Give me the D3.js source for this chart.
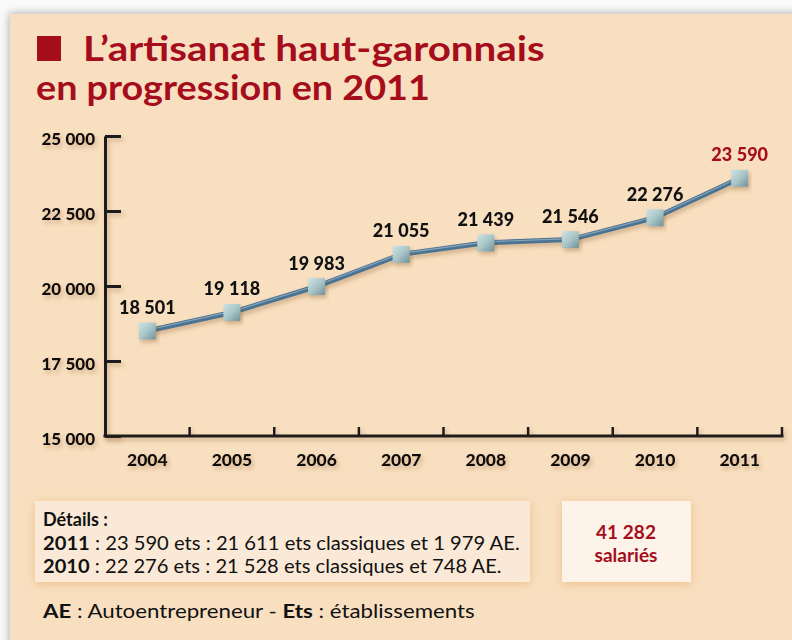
<!DOCTYPE html>
<html>
<head>
<meta charset="utf-8">
<script src="https://cdn.jsdelivr.net/npm/d3@7"></script>
<style>
  body { margin: 0; background: #fff; }
  svg { display: block; }
</style>
</head>
<body>
<div class="chart"></div>
<script>
  // data
  var years = ["2004", "2005", "2006", "2007", "2008", "2009", "2010", "2011"];
  var values = [18501, 19118, 19983, 21055, 21439, 21546, 22276, 23590];
  var yTicks = [15000, 17500, 20000, 22500, 25000];
  var titleLines = ["L\u2019artisanat haut-garonnais", "en progression en 2011"];
  var detailLines = [
    ["2011", " : 23\u2005590 ets : 21\u2005611 ets classiques et 1\u2005979 AE."],
    ["2010", " : 22\u2005276 ets : 21\u2005528 ets classiques et 748 AE."]
  ];
  var salaries = ["41\u2005282", "salari\u00e9s"];

  var W = 792, H = 640;
  var red = "#a50d1c";
  var font = "Lato, 'Open Sans', sans-serif";
  var titleFont = "'Liberation Sans Narrow', Lato, sans-serif";

  var svg = d3.select(".chart").append("svg")
      .attr("width", W)
      .attr("height", H);

  var defs = svg.append("defs");

  var panelShadow = defs.append("filter").attr("id", "panelShadow")
      .attr("x", "-5%").attr("y", "-5%").attr("width", "110%").attr("height", "110%");
  panelShadow.append("feDropShadow")
      .attr("dx", -1).attr("dy", -1).attr("stdDeviation", 4)
      .attr("flood-color", "#777").attr("flood-opacity", 0.55);

  var softShadow = defs.append("filter").attr("id", "softShadow")
      .attr("x", "-20%").attr("y", "-20%").attr("width", "140%").attr("height", "160%");
  softShadow.append("feDropShadow")
      .attr("dx", 2).attr("dy", 3).attr("stdDeviation", 2)
      .attr("flood-color", "#8a5a2a").attr("flood-opacity", 0.35);

  var boxGlow = defs.append("filter").attr("id", "boxGlow")
      .attr("x", "-20%").attr("y", "-30%").attr("width", "140%").attr("height", "160%");
  boxGlow.append("feDropShadow")
      .attr("dx", 0).attr("dy", 2).attr("stdDeviation", 5)
      .attr("flood-color", "#e6a65e").attr("flood-opacity", 0.55);

  var markerGrad = defs.append("linearGradient").attr("id", "markerGrad")
      .attr("x1", 0).attr("y1", 0).attr("x2", 1).attr("y2", 1);
  markerGrad.append("stop").attr("offset", "0%").attr("stop-color", "#cfe3e3");
  markerGrad.append("stop").attr("offset", "50%").attr("stop-color", "#a9c6c9");
  markerGrad.append("stop").attr("offset", "100%").attr("stop-color", "#6f9198");

  // page + panel
  svg.append("rect").attr("width", W).attr("height", H).attr("fill", "#fafafa");
  svg.append("rect")
      .attr("x", 10).attr("y", 14)
      .attr("width", W).attr("height", H)
      .attr("fill", "#f8dfc0")
      .attr("filter", "url(#panelShadow)");

  // squeeze a text to a given width
  function fitWidth(sel, x, width) {
    var w = sel.node().getComputedTextLength();
    var k = width / w;
    sel.attr("transform", "translate(" + x + ",0) scale(" + k + ",1)").attr("x", 0);
  }

  // title
  svg.append("rect")
      .attr("x", 37).attr("y", 36)
      .attr("width", 24).attr("height", 25)
      .attr("fill", red);

  var t1 = svg.append("text")
      .attr("y", 61)
      .attr("font-family", titleFont).attr("font-weight", "bold")
      .attr("font-size", 35).attr("fill", red)
      .text(titleLines[0]);
  fitWidth(t1, 83, 462);

  var t2 = svg.append("text")
      .attr("y", 100)
      .attr("font-family", titleFont).attr("font-weight", "bold")
      .attr("font-size", 35).attr("fill", red)
      .text(titleLines[1]);
  fitWidth(t2, 36, 394);

  // scales
  var xScale = d3.scaleBand()
      .domain(years)
      .range([105, 782]);

  var yScale = d3.scaleLinear()
      .domain([15000, 25000])
      .range([436, 136]);

  var fmt = d3.formatLocale({decimal: ",", thousands: "\u2005", grouping: [3], currency: ["", " €"]}).format(",d");

  // y axis
  var yAxis = d3.axisLeft(yScale)
      .tickValues(yTicks)
      .tickSizeInner(-16)
      .tickSizeOuter(0)
      .tickPadding(10)
      .tickFormat(fmt);

  var gy = svg.append("g")
      .attr("transform", "translate(105,0)")
      .attr("filter", "url(#softShadow)")
      .call(yAxis);
  gy.select(".domain").attr("stroke", "#1a1a1a").attr("stroke-width", 3);
  gy.selectAll(".tick line").attr("stroke", "#1a1a1a").attr("stroke-width", 3);
  gy.selectAll("text")
      .attr("font-family", font).attr("font-weight", 900)
      .attr("font-size", 17).attr("fill", "#111")
      .attr("dy", "0.5em");

  // x axis
  var xAxis = d3.axisBottom(xScale)
      .tickSize(0)
      .tickPadding(15);

  var gx = svg.append("g")
      .attr("transform", "translate(0,436)")
      .attr("filter", "url(#softShadow)")
      .call(xAxis);
  gx.select(".domain").attr("stroke", "#1a1a1a").attr("stroke-width", 3)
      .attr("d", "M103.5,0H783.5");
  gx.selectAll("text")
      .attr("font-family", font).attr("font-weight", 900)
      .attr("font-size", 17.5).attr("fill", "#111")
      .attr("dy", "0.85em");
  gx.selectAll(".tick").append("line")
      .attr("x1", xScale.bandwidth() / 2).attr("x2", xScale.bandwidth() / 2)
      .attr("y1", 0).attr("y2", -9)
      .attr("stroke", "#1a1a1a").attr("stroke-width", 2.5);

  // line
  var pts = years.map(function(d, i) { return {year: d, value: values[i]}; });

  var line = d3.line()
      .x(function(d) { return xScale(d.year) + xScale.bandwidth() / 2; })
      .y(function(d) { return yScale(d.value); });

  svg.append("path")
      .datum(pts)
      .attr("d", line)
      .attr("fill", "none")
      .attr("stroke", "#4b7392")
      .attr("stroke-width", 5)
      .attr("filter", "url(#softShadow)");
  svg.append("path")
      .datum(pts)
      .attr("d", line)
      .attr("transform", "translate(0,-1)")
      .attr("fill", "none")
      .attr("stroke", "#86a6bc")
      .attr("stroke-width", 1.2);

  // markers
  var ms = 17;
  svg.selectAll("rect.marker")
      .data(pts)
      .enter().append("rect")
      .attr("class", "marker")
      .attr("x", function(d) { return xScale(d.year) + xScale.bandwidth() / 2 - ms / 2; })
      .attr("y", function(d) { return yScale(d.value) - ms / 2; })
      .attr("width", ms).attr("height", ms)
      .attr("fill", "url(#markerGrad)")
      .attr("filter", "url(#softShadow)");

  // value labels
  svg.selectAll("text.val")
      .data(pts)
      .enter().append("text")
      .attr("class", "val")
      .attr("x", function(d) { return xScale(d.year) + xScale.bandwidth() / 2; })
      .attr("y", function(d) { return yScale(d.value) - 17; })
      .attr("text-anchor", "middle")
      .attr("font-family", font).attr("font-weight", 900)
      .attr("font-size", 18)
      .attr("fill", function(d, i) { return i === pts.length - 1 ? red : "#111"; })
      .text(function(d) { return fmt(d.value); });

  // details box
  svg.append("rect")
      .attr("x", 35).attr("y", 501)
      .attr("width", 495).attr("height", 81)
      .attr("fill", "#fbe9d7")
      .attr("filter", "url(#boxGlow)");

  svg.append("text")
      .attr("x", 43).attr("y", 526)
      .attr("font-family", font).attr("font-weight", "bold")
      .attr("font-size", 18).attr("fill", "#111")
      .text("D\u00e9tails :");

  detailLines.forEach(function(l, i) {
    var t = svg.append("text")
        .attr("y", 550 + i * 23)
        .attr("font-family", font)
        .attr("font-size", 19).attr("fill", "#111");
    t.append("tspan").attr("font-weight", "bold").text(l[0]);
    t.append("tspan").attr("font-weight", 400).text(l[1]);
    fitWidth(t, 43, i === 0 ? 477 : 459);
  });

  // salaries box
  svg.append("rect")
      .attr("x", 562).attr("y", 501)
      .attr("width", 129).attr("height", 81)
      .attr("fill", "#fdf3e9")
      .attr("filter", "url(#boxGlow)");

  salaries.forEach(function(s, i) {
    svg.append("text")
        .attr("x", 626).attr("y", 539 + i * 23)
        .attr("text-anchor", "middle")
        .attr("font-family", font).attr("font-weight", "bold")
        .attr("font-size", 19).attr("fill", red)
        .text(s);
  });

  // footer
  var foot = svg.append("text")
      .attr("y", 618)
      .attr("font-family", font)
      .attr("font-size", 19).attr("fill", "#111");
  foot.append("tspan").attr("font-weight", "bold").text("AE");
  foot.append("tspan").attr("font-weight", 400).text(" : Autoentrepreneur - ");
  foot.append("tspan").attr("font-weight", "bold").text("Ets");
  foot.append("tspan").attr("font-weight", 400).text(" : \u00e9tablissements");
  fitWidth(foot, 43, 432);
</script>
</body>
</html>
